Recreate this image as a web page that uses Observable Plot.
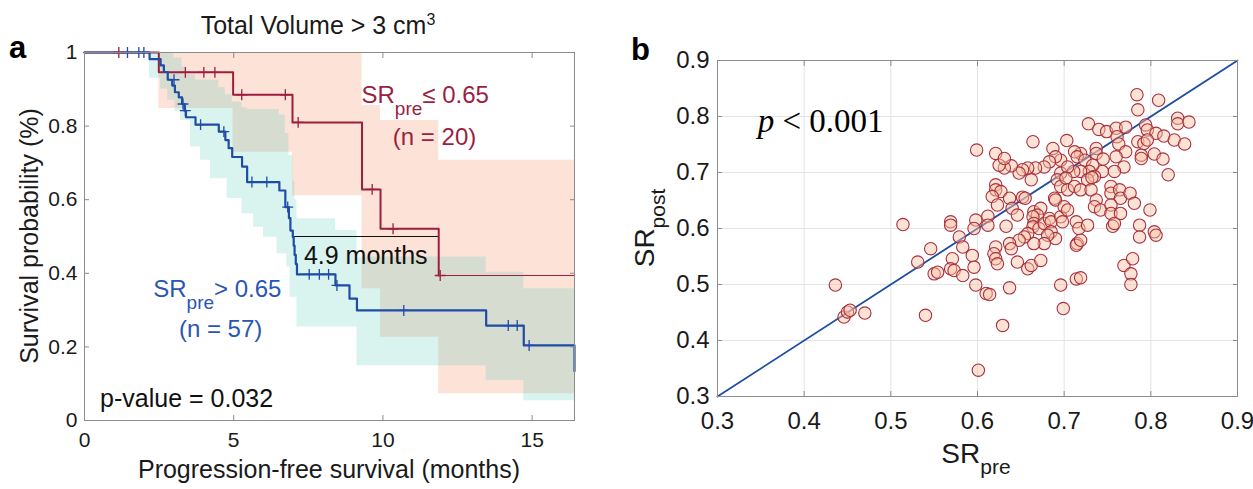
<!DOCTYPE html>
<html><head><meta charset="utf-8">
<script src="https://cdn.jsdelivr.net/npm/d3@7"></script>
<script src="https://cdn.jsdelivr.net/npm/@observablehq/plot@0.6"></script>
<style>
body{margin:0;background:#fff;}
#wrap{position:relative;width:1253px;height:489px;overflow:hidden;}
#wrap svg{position:absolute;top:0;overflow:visible;}
</style></head><body><div id="wrap"></div>
<script>
// ---------- Panel a: Kaplan-Meier data ----------
const redTime = [0, 2.49, 4.98, 6.97, 9.30, 9.92, 11.87, 16.42];
const redSurv = [1, 0.946, 0.885, 0.810, 0.628, 0.521, 0.394, 0.394];
const redBandTime = [2.49, 4.98, 6.97, 9.30, 9.92, 11.87, 16.42];
const redLower = [0.848, 0.729, 0.611, 0.358, 0.226, 0.0725, 0.0725];
const redUpper = [1, 1, 1, 0.856, 0.815, 0.707, 0.707];
const redCensorTime = [1.15, 3.38, 4.00, 4.37, 5.27, 6.73, 7.16, 9.64, 10.34, 11.92];
const redCensorSurv = [1, 0.946, 0.946, 0.946, 0.885, 0.885, 0.810, 0.628, 0.521, 0.394];

const blueTime = [0, 2.18, 2.55, 2.66, 2.79, 2.94, 3.03, 3.16, 3.27, 3.35, 3.40, 3.72, 4.50, 4.72, 4.83, 4.95, 5.28, 5.45, 6.53, 6.73, 6.85, 6.90, 6.98, 7.01, 7.04, 7.08, 7.12, 8.41, 8.88, 9.13, 13.46, 14.72, 16.42];
const blueSurv = [1, 0.982, 0.965, 0.947, 0.926, 0.910, 0.892, 0.878, 0.860, 0.842, 0.824, 0.804, 0.785, 0.762, 0.740, 0.716, 0.690, 0.648, 0.625, 0.580, 0.550, 0.516, 0.498, 0.475, 0.450, 0.425, 0.397, 0.367, 0.331, 0.299, 0.258, 0.204, 0.134];
const blueBandTime = [2.18, 2.55, 2.79, 3.0, 3.03, 3.22, 3.27, 3.40, 3.55, 3.72, 3.89, 4.22, 4.50, 4.72, 4.78, 4.95, 5.28, 5.45, 5.67, 6.00, 6.45, 6.53, 6.73, 6.78, 6.85, 6.89, 6.98, 7.05, 7.12, 8.41, 9.13, 13.46, 14.72, 16.42];
const blueLower = [0.93, 0.90, 0.87, 0.87, 0.84, 0.815, 0.815, 0.815, 0.743, 0.743, 0.707, 0.657, 0.657, 0.657, 0.603, 0.603, 0.562, 0.562, 0.525, 0.498, 0.453, 0.453, 0.453, 0.417, 0.417, 0.335, 0.335, 0.335, 0.254, 0.254, 0.149, 0.109, 0.054, 0.054];
const blueUpper = [1, 1, 1, 0.985, 0.985, 0.985, 0.96, 0.94, 0.94, 0.925, 0.925, 0.925, 0.905, 0.885, 0.885, 0.865, 0.85, 0.845, 0.845, 0.845, 0.845, 0.83, 0.78, 0.78, 0.72, 0.72, 0.65, 0.60, 0.548, 0.516, 0.444, 0.403, 0.358, 0.358];
const blueCensorTime = [1.44, 1.82, 1.99, 3.00, 3.30, 3.38, 3.89, 4.67, 5.61, 6.11, 6.81, 7.53, 7.87, 8.18, 8.46, 10.70, 14.20, 14.50, 14.90];
const blueCensorSurv = [1, 1, 1, 0.926, 0.860, 0.842, 0.804, 0.785, 0.648, 0.648, 0.580, 0.397, 0.397, 0.397, 0.367, 0.299, 0.258, 0.258, 0.204];

const medianFrom = [6.97], medianTo = [11.87], medianLevel = [0.5];
const xTicksA = [0, 5, 10, 15];
const yTicksA = [0, 0.2, 0.4, 0.6, 0.8, 1];

// ---------- Panel b: scatter data ----------
const srPre = [0.784,0.809,0.785,0.831,0.831,0.844,0.728,0.740,0.749,0.760,0.771,0.794,0.796,0.806,0.815,0.827,0.839,0.761,0.763,0.785,0.792,0.796,0.789,0.789,0.804,0.814,0.820,0.664,0.703,0.687,0.737,0.737,0.719,0.712,0.715,0.724,0.771,0.769,0.760,0.745,0.758,0.744,0.733,0.729,0.735,0.719,0.711,0.696,0.696,0.704,0.690,0.683,0.677,0.667,0.658,0.652,0.648,0.639,0.631,0.625,0.621,0.631,0.599,0.662,0.621,0.621,0.627,0.617,0.623,0.637,0.640,0.646,0.652,0.655,0.689,0.690,0.692,0.696,0.702,0.704,0.712,0.719,0.727,0.732,0.731,0.737,0.735,0.742,0.754,0.754,0.764,0.765,0.776,0.781,0.754,0.754,0.765,0.756,0.758,0.799,0.787,0.787,0.804,0.806,0.665,0.673,0.669,0.664,0.665,0.664,0.671,0.677,0.683,0.685,0.696,0.700,0.704,0.698,0.685,0.690,0.681,0.677,0.665,0.658,0.654,0.648,0.637,0.639,0.621,0.619,0.621,0.623,0.646,0.658,0.662,0.673,0.714,0.717,0.727,0.715,0.714,0.719,0.633,0.612,0.612,0.598,0.596,0.579,0.569,0.569,0.583,0.594,0.596,0.571,0.569,0.573,0.583,0.546,0.531,0.550,0.554,0.514,0.598,0.610,0.614,0.637,0.696,0.714,0.719,0.769,0.779,0.777,0.777,0.699,0.540,0.629,0.436,0.446,0.450,0.453,0.470,0.601];
const srPost = [0.839,0.829,0.812,0.797,0.787,0.790,0.787,0.777,0.773,0.779,0.781,0.785,0.776,0.770,0.765,0.758,0.751,0.764,0.751,0.755,0.752,0.758,0.731,0.725,0.733,0.724,0.696,0.755,0.757,0.743,0.743,0.734,0.734,0.737,0.728,0.722,0.737,0.710,0.728,0.724,0.702,0.702,0.713,0.702,0.693,0.702,0.702,0.722,0.699,0.710,0.728,0.719,0.710,0.708,0.708,0.705,0.699,0.712,0.708,0.713,0.734,0.725,0.740,0.687,0.678,0.669,0.666,0.657,0.642,0.654,0.636,0.624,0.656,0.654,0.654,0.651,0.687,0.675,0.690,0.669,0.675,0.669,0.687,0.691,0.669,0.651,0.639,0.633,0.675,0.663,0.669,0.654,0.663,0.645,0.642,0.627,0.627,0.604,0.609,0.633,0.606,0.585,0.594,0.588,0.630,0.636,0.624,0.621,0.609,0.603,0.600,0.609,0.618,0.612,0.621,0.639,0.633,0.612,0.594,0.582,0.588,0.573,0.573,0.591,0.585,0.579,0.573,0.564,0.567,0.555,0.546,0.537,0.540,0.528,0.534,0.543,0.612,0.600,0.606,0.573,0.570,0.579,0.604,0.622,0.606,0.615,0.600,0.585,0.612,0.606,0.567,0.552,0.531,0.546,0.528,0.525,0.516,0.564,0.540,0.519,0.522,0.607,0.499,0.484,0.482,0.494,0.499,0.510,0.512,0.534,0.546,0.519,0.500,0.457,0.445,0.427,0.499,0.442,0.451,0.454,0.449,0.347];
const identityLine = [0.3, 0.9];
const ticksB = [0.3, 0.4, 0.5, 0.6, 0.7, 0.8, 0.9];

// ---------- tables ----------
const redKM = redTime.map((t, i) => ({t, s: redSurv[i]}));
const redMain = redKM.filter(d => d.t <= 11.87);
const redTail = redKM.filter(d => d.t >= 11.87);
const blueKM = blueTime.map((t, i) => ({t, s: blueSurv[i]}));
const redBand = redBandTime.map((t, i) => ({t, lo: redLower[i], hi: redUpper[i]}));
const blueBand = blueBandTime.map((t, i) => ({t, lo: blueLower[i], hi: blueUpper[i]}));
const redCens = redCensorTime.map((t, i) => ({t, s: redCensorSurv[i]}));
const blueCens = blueCensorTime.map((t, i) => ({t, s: blueCensorSurv[i]}));
const median = medianFrom.map((t1, i) => ({t1, t2: medianTo[i], s: medianLevel[i]}));
const pts = srPre.map((x, i) => ({x, y: srPost[i]}));
const diag = identityLine.map(v => ({x: v, y: v}));

const FONT = '"Liberation Sans", Arial, Helvetica, sans-serif';
const SERIF = '"Liberation Serif", "Times New Roman", serif';
const RED = "#9c1f3f", BLUE = "#1e4ca6", REDTXT = "#9a1f42", BLUETXT = "#2a56b3";
const FRAME = "#8c8c8c", INK = "#1a1a1a";

function rich(sel, x, y, parts, o) {
  const t = sel.append("text").attr("fill", o.color || INK).attr("font-family", o.family || FONT)
    .attr("font-size", o.size).attr("text-anchor", o.anchor || "start");
  if (o.weight) t.attr("font-weight", o.weight);
  if (o.rotate) t.attr("transform", `translate(${x},${y}) rotate(-90)`);
  else t.attr("x", x).attr("y", y);
  let shift = 0;
  for (const p of parts) {
    const sp = t.append("tspan").text(p.text);
    if (p.size) sp.attr("font-size", p.size);
    if (p.style) sp.attr("font-style", p.style);
    const target = p.dy || 0;
    if (target !== shift) { sp.attr("dy", target - shift); shift = target; }
  }
  return t;
}

// ---------- Panel a ----------
const plotA = Plot.plot({
  width: 600, height: 489,
  marginLeft: 84, marginRight: 26, marginTop: 52, marginBottom: 69,
  style: {fontFamily: FONT, fontSize: "21px", color: INK, background: "transparent", overflow: "visible"},
  x: {domain: [0, 16.42]},
  y: {domain: [0, 1]},
  marks: [
    Plot.areaY(redBand, {x: "t", y1: "lo", y2: "hi", curve: "step-after", fill: "rgb(247,140,100)", fillOpacity: 0.25}),
    Plot.areaY(blueBand, {x: "t", y1: "lo", y2: "hi", curve: "step-after", fill: "rgb(80,200,180)", fillOpacity: 0.22}),
    Plot.ruleY(median, {y: "s", x1: "t1", x2: "t2", stroke: "#111", strokeWidth: 1.2}),
    Plot.line(redMain, {x: "t", y: "s", curve: "step-after", stroke: RED, strokeWidth: 2}),
    Plot.line(redTail, {x: "t", y: "s", curve: "step-after", stroke: RED, strokeWidth: 1.2}),
    Plot.line(blueKM, {x: "t", y: "s", curve: "step-after", stroke: BLUE, strokeWidth: 2.2}),
    Plot.dot(redCens, {x: "t", y: "s", symbol: "plus", r: 3.6, stroke: RED, strokeWidth: 1.3}),
    Plot.dot(blueCens, {x: "t", y: "s", symbol: "plus", r: 3.6, stroke: BLUE, strokeWidth: 1.3}),
    Plot.frame({stroke: FRAME, strokeWidth: 1}),
    Plot.axisX({ticks: xTicksA, tickSize: 0, tickPadding: 12, tickFormat: d => String(d), label: null}),
    Plot.axisX({ticks: xTicksA, tickSize: -5, tickFormat: () => "", label: null, stroke: FRAME}),
    Plot.axisX({anchor: "top", ticks: xTicksA, tickSize: -5, tickFormat: () => "", label: null, stroke: FRAME}),
    Plot.axisY({ticks: yTicksA, tickSize: 0, tickPadding: 7, tickFormat: d => String(d), label: null}),
    Plot.axisY({ticks: yTicksA, tickSize: -5, tickFormat: () => "", label: null, stroke: FRAME}),
    Plot.axisY({anchor: "right", ticks: yTicksA, tickSize: -5, tickFormat: () => "", label: null, stroke: FRAME})
  ]
});
plotA.style.left = "0px";
document.getElementById("wrap").appendChild(plotA);
{
  const sx = plotA.scale("x"), sy = plotA.scale("y");
  const g = d3.select(plotA).append("g");
  rich(g, 318, 34, [{text: "Total Volume > 3 cm"}, {text: "3", size: 16, dy: -9}], {size: 25, anchor: "middle"});
  rich(g, 9, 58, [{text: "a"}], {size: 31, weight: "bold", color: "#000"});
  rich(g, 329, 478, [{text: "Progression-free survival (months)"}], {size: 25, anchor: "middle"});
  rich(g, 38, 236, [{text: "Survival probability (%)"}], {size: 25, anchor: "middle", rotate: true});
  rich(g, sx.apply(9.30), sy.apply(0.862), [{text: "SR"}, {text: "pre", size: 19, dy: 12}, {text: "\u2264 0.65", dy: 0}], {size: 24, color: REDTXT});
  rich(g, sx.apply(10.35), sy.apply(0.747), [{text: "(n = 20)"}], {size: 24, color: REDTXT});
  rich(g, sx.apply(2.32), sy.apply(0.335), [{text: "SR"}, {text: "pre", size: 19, dy: 12}, {text: "> 0.65", dy: 0}], {size: 24, color: BLUETXT});
  rich(g, sx.apply(3.18), sy.apply(0.226), [{text: "(n = 57)"}], {size: 24, color: BLUETXT});
  rich(g, sx.apply(7.37), sy.apply(0.424), [{text: "4.9 months"}], {size: 25, color: "#111"});
  rich(g, sx.apply(0.54), sy.apply(0.036), [{text: "p-value = 0.032"}], {size: 25, color: "#111"});
}

// ---------- Panel b ----------
const plotB = Plot.plot({
  width: 653, height: 489,
  marginLeft: 117, marginRight: 16, marginTop: 60, marginBottom: 93,
  style: {fontFamily: FONT, fontSize: "24px", color: INK, background: "transparent", overflow: "visible"},
  x: {domain: [0.3, 0.9]},
  y: {domain: [0.3, 0.9]},
  marks: [
    Plot.gridX({ticks: ticksB, stroke: "#e4e4e4", strokeOpacity: 1}),
    Plot.gridY({ticks: ticksB, stroke: "#e4e4e4", strokeOpacity: 1}),
    Plot.line(diag, {x: "x", y: "y", stroke: BLUE, strokeWidth: 1.8}),
    Plot.dot(pts, {x: "x", y: "y", r: 6.2, fill: "#fbc0a5", fillOpacity: 0.45, stroke: "#a8303e", strokeWidth: 1.1}),
    Plot.frame({stroke: FRAME, strokeWidth: 1}),
    Plot.axisX({ticks: ticksB, tickSize: 0, tickPadding: 15, tickFormat: d => String(d), label: null}),
    Plot.axisX({ticks: ticksB, tickSize: -5, tickFormat: () => "", label: null, stroke: FRAME}),
    Plot.axisX({anchor: "top", ticks: ticksB, tickSize: -5, tickFormat: () => "", label: null, stroke: FRAME}),
    Plot.axisY({ticks: ticksB, tickSize: 0, tickPadding: 8, tickFormat: d => String(d), label: null}),
    Plot.axisY({ticks: ticksB, tickSize: -5, tickFormat: () => "", label: null, stroke: FRAME}),
    Plot.axisY({anchor: "right", ticks: ticksB, tickSize: -5, tickFormat: () => "", label: null, stroke: FRAME})
  ]
});
plotB.style.left = "600px";
document.getElementById("wrap").appendChild(plotB);
{
  const sx = plotB.scale("x"), sy = plotB.scale("y");
  const g = d3.select(plotB).append("g");
  rich(g, 31, 60, [{text: "b"}], {size: 31, weight: "bold", color: "#000"});
  rich(g, sx.apply(0.347), sy.apply(0.772), [{text: "p", style: "italic"}, {text: " < 0.001"}], {size: 33, family: SERIF, color: "#000"});
  rich(g, 376, 463, [{text: "SR"}, {text: "pre", size: 21, dy: 11}], {size: 28, anchor: "middle"});
  rich(g, 54, 228, [{text: "SR"}, {text: "post", size: 21, dy: 11}], {size: 28, anchor: "middle", rotate: true});
}
</script></body></html>
